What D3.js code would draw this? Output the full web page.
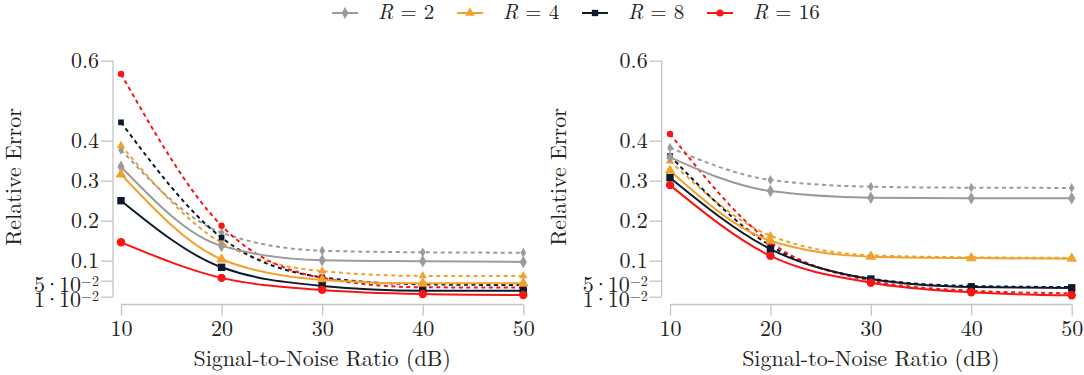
<!DOCTYPE html>
<html>
<head>
<meta charset="utf-8">
<script src="https://cdn.jsdelivr.net/npm/d3@7"></script>
<style>
  body { margin: 0; background: #fff; }
  svg, .axis { font-family: "Latin Modern Roman", "CMU Serif", "Times New Roman", "Liberation Serif", serif; }
  .axis text { fill: #222; font-size: 22px; }
  .axis line, .axis path { stroke: #c4c4c4; stroke-width: 1.3; }
</style>
</head>
<body>
<div id="chart"></div>
<script>
const snr = [10, 20, 30, 40, 50];
const yTicks = [0.01, 0.05, 0.1, 0.2, 0.3, 0.4, 0.6];
const seriesNames = ["R = 2", "R = 4", "R = 8", "R = 16"];
const colors = ["#9b9b9b", "#f0a22e", "#0c1a2e", "#fa1414"];
const markers = [d3.symbolDiamond, d3.symbolTriangle, d3.symbolSquare, d3.symbolCircle];

// left panel, solid and dashed per R
const leftSolid = [
  [0.335, 0.137, 0.101, 0.0985, 0.097],
  [0.316, 0.1035, 0.052, 0.0435, 0.0435],
  [0.25, 0.0835, 0.037, 0.025, 0.025],
  [0.146, 0.057, 0.027, 0.0168, 0.0143]
];
const leftDashed = [
  [0.377, 0.17, 0.125, 0.121, 0.12],
  [0.388, 0.145, 0.074, 0.062, 0.062],
  [0.446, 0.1575, 0.0585, 0.041, 0.039],
  [0.567, 0.1875, 0.057, 0.0335, 0.033]
];
// right panel
const rightSolid = [
  [0.3585, 0.274, 0.2575, 0.256, 0.256],
  [0.325, 0.15, 0.11, 0.1065, 0.105],
  [0.3075, 0.129, 0.054, 0.034, 0.0317],
  [0.289, 0.112, 0.045, 0.021, 0.0135]
];
const rightDashed = [
  [0.3825, 0.302, 0.285, 0.2825, 0.282],
  [0.349, 0.1625, 0.1135, 0.1085, 0.107],
  [0.362, 0.1375, 0.055, 0.0367, 0.034],
  [0.417, 0.146, 0.05, 0.025, 0.0185]
];

const svg = d3.select("#chart").append("svg")
  .attr("width", 1084)
  .attr("height", 375);

const yScale = d3.scaleLinear().domain([0, 0.6]).range([300.7, 60.7]);

function tickLabel(sel) {
  sel.each(function(d) {
    const t = d3.select(this);
    if (d < 0.1) {
      t.text(null);
      t.append("tspan").text(d === 0.01 ? "1" : "5");
      t.append("tspan").attr("dx", -1.5).text("·");
      t.append("tspan").attr("dx", -1.5).text("10");
      t.append("tspan").attr("dy", "-0.45em").style("font-size", "14px").text("−2");
    } else {
      t.text(d3.format(".1f")(d));
    }
  });
}

// marker size: [solid, dashed]
const markerSize = k => k === 0 ? [45, 28] : k === 1 ? [50, 30] : [55, 32];

function panel(x0, x1, yAxisX, titleX, solid, dashed) {
  const xScale = d3.scaleLinear().domain([10, 50]).range([x0, x1]);
  const g = svg.append("g");

  // y axis
  const ya = g.append("g").attr("class", "axis")
    .attr("transform", `translate(${yAxisX},0)`)
    .call(d3.axisLeft(yScale).tickValues(yTicks).tickSize(12).tickSizeOuter(0).tickPadding(2));
  ya.select(".domain").attr("d", `M0,${yScale(0.01)}V${yScale(0.6)}`);
  ya.selectAll(".tick text").call(tickLabel);
  ya.selectAll(".tick").filter(d => d === 0.01).select("text").attr("dy", "0.44em");
  ya.selectAll(".tick").filter(d => d === 0.05).select("text").attr("dy", "0.5em");

  // x axis
  const xa = g.append("g").attr("class", "axis")
    .attr("transform", "translate(0,304.5)")
    .call(d3.axisBottom(xScale).tickValues(snr).tickSize(11).tickSizeOuter(0).tickPadding(5));
  xa.select(".domain").attr("d", `M${x0},0H${x1}`);

  g.append("text")
    .attr("x", (x0 + x1) / 2).attr("y", 366)
    .attr("text-anchor", "middle")
    .style("font-size", "22px").attr("fill", "#222")
    .text("Signal-to-Noise Ratio (dB)");

  g.append("text")
    .attr("transform", `translate(${titleX},177) rotate(-90)`)
    .attr("text-anchor", "middle")
    .style("font-size", "22px").attr("fill", "#222")
    .text("Relative Error");

  const line = d3.line()
    .x((d, i) => xScale(snr[i]))
    .y(d => yScale(d))
    .curve(d3.curveMonotoneX);

  function drawSeries(data, dashedLine) {
    data.forEach((vals, k) => {
      g.append("path")
        .datum(vals)
        .attr("d", line)
        .attr("fill", "none")
        .attr("stroke", colors[k])
        .attr("stroke-width", 2)
        .attr("stroke-dasharray", dashedLine ? "4,3.5" : null);
      g.selectAll(null)
        .data(vals)
        .enter()
        .append("path")
        .attr("transform", (d, i) => `translate(${xScale(snr[i])},${yScale(d)})`)
        .attr("d", d3.symbol().type(markers[k]).size(markerSize(k)[dashedLine ? 1 : 0]))
        .attr("fill", colors[k]);
    });
  }
  drawSeries(dashed, true);
  drawSeries(solid, false);
}

panel(121, 523.3, 113, 21, leftSolid, leftDashed);
panel(670, 1071.7, 661.7, 566, rightSolid, rightDashed);

// legend
const legendX = [332, 457, 582, 707];
const legend = svg.append("g").attr("transform", "translate(0,13)");
seriesNames.forEach((name, k) => {
  const lg = legend.append("g").attr("transform", `translate(${legendX[k]},0)`);
  lg.append("line").attr("x1", 0).attr("x2", 26).attr("stroke", colors[k]).attr("stroke-width", 2);
  lg.append("path").attr("transform", "translate(13,0)")
    .attr("d", d3.symbol().type(markers[k]).size(40)).attr("fill", colors[k]);
  const parts = name.split(" = ");
  const t = lg.append("text").attr("x", 46).attr("y", 6).style("font-size", "21px").attr("fill", "#222");
  t.append("tspan").style("font-style", "italic").text(parts[0]);
  t.append("tspan").text(" = " + parts[1]);
});
</script>
</body>
</html>
